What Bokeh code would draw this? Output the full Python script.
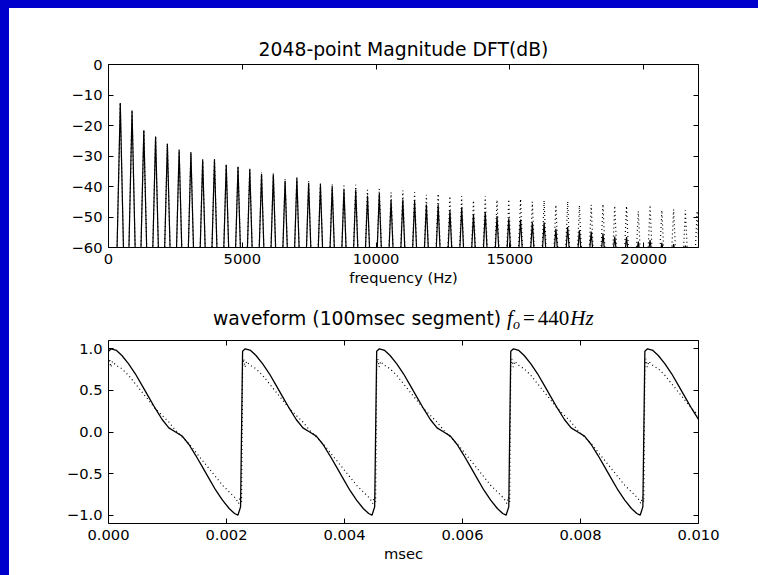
from bokeh.plotting import figure
from bokeh.models import Range1d, LinearAxis, FixedTicker, Div
from bokeh.layouts import column
from bokeh.embed import file_html
from bokeh.resources import INLINE

# ---------------- data ----------------
F0 = 440.0                      # fundamental (Hz)
NYQUIST = 22050.0
harmonic_number = list(range(1, 51))
solid_peak_db = [-12.6, -15.1, -21.6, -23.6, -26.0, -28.0, -28.9, -31.3, -31.3, -32.9,
                 -33.7, -34.4, -35.9, -36.1, -38.2, -37.3, -38.9, -39.5, -40.2, -41.1,
                 -41.1, -43.0, -42.4, -44.4, -44.3, -44.8, -45.9, -46.0, -47.9, -46.8,
                 -49.2, -48.4, -49.7, -50.4, -50.8, -51.7, -51.7, -53.9, -53.3, -54.4,
                 -54.8, -55.4, -56.4, -56.6, -58.1, -57.6, -58.5, -58.9, -59.4, -59.9]
dotted_peak_db = [-12.5, -15.0, -21.5, -23.5, -25.9, -27.7, -28.6, -31.0, -31.0, -32.6,
                  -33.2, -33.9, -35.4, -35.6, -37.5, -36.6, -38.2, -38.6, -39.1, -39.7,
                  -39.4, -41.1, -40.8, -41.9, -41.3, -41.9, -42.7, -42.4, -43.2, -43.2,
                  -44.6, -43.2, -44.4, -44.2, -44.1, -45.0, -44.6, -46.0, -44.9, -46.2,
                  -46.0, -45.8, -46.3, -46.4, -48.1, -46.1, -47.8, -47.5, -47.8, -48.0]

# one period of each waveform (phase 0..1 of a 440 Hz cycle)
solid_phase = [0.000, 0.020, 0.060, 0.100, 0.150, 0.200, 0.250, 0.300, 0.350, 0.400,
               0.450, 0.500, 0.550, 0.600, 0.650, 0.700, 0.750, 0.800, 0.850, 0.900,
               0.940, 0.965, 0.985]
solid_wave = [0.97, 1.00, 0.98, 0.92, 0.82, 0.70, 0.56, 0.42, 0.28, 0.15,
              0.05, 0.00, -0.05, -0.15, -0.28, -0.42, -0.56, -0.70, -0.82, -0.92,
              -0.98, -1.00, -0.90]
dotted_phase = [0.000, 0.008, 0.018, 0.030, 0.050, 0.100, 0.150, 0.200, 0.250, 0.300,
                0.350, 0.400, 0.450, 0.500, 0.550, 0.600, 0.650, 0.700, 0.750, 0.800,
                0.850, 0.900, 0.950, 0.970, 0.982, 0.992]
dotted_wave = [0.80, 0.88, 0.78, 0.85, 0.81, 0.76, 0.68, 0.58, 0.48, 0.38,
               0.28, 0.20, 0.12, 0.02, -0.06, -0.14, -0.24, -0.34, -0.44, -0.54,
               -0.64, -0.72, -0.80, -0.86, -0.78, -0.84]
n_periods = 5

spec_xticks = [0, 5000, 10000, 15000, 20000]
spec_xlabels = ["0", "5000", "10000", "15000", "20000"]
spec_yticks = [0, -10, -20, -30, -40, -50, -60]
spec_ylabels = ["0", "\u221210", "\u221220", "\u221230", "\u221240", "\u221250", "\u221260"]
wave_xticks = [0.0, 0.002, 0.004, 0.006, 0.008, 0.010]
wave_xlabels = ["0.000", "0.002", "0.004", "0.006", "0.008", "0.010"]
wave_yticks = [-1.0, -0.5, 0.0, 0.5, 1.0]
wave_ylabels = ["\u22121.0", "\u22120.5", "0.0", "0.5", "1.0"]

# ---------------- helpers ----------------
FONT = "DejaVu Sans"
TICK_SIZE = "14.7px"
TITLE_SIZE = "18.8px"
BLUE = "#0000cc"


def spikes(peaks):
    xs, ys = [], []
    for k, pk in zip(harmonic_number, peaks):
        f = k * F0
        h = 60.0 + 1.35 * (pk + 60.0)
        xs += [f - h, f, f + h]
        ys += [-62.0, pk, -62.0]
    return xs, ys


def tile(phase, wave):
    ts, vs = [], []
    for k in range(n_periods):
        for ph, v in zip(phase, wave):
            ts.append((k + ph) / F0)
            vs.append(v)
    return ts, vs


def make_fig(height, top, bottom, xr, yr, xt, xl, yt, yl, xlabel, margin):
    p = figure(width=749, height=height, x_range=xr, y_range=yr,
               output_backend="svg", toolbar_location=None,
               min_border_left=99, min_border_right=60,
               min_border_top=top, min_border_bottom=bottom, margin=margin)
    p.grid.visible = False
    p.outline_line_color = "black"
    p.outline_line_width = 1
    p.outline_line_alpha = 1.0
    p.background_fill_color = "white"
    p.border_fill_color = "white"
    right = LinearAxis()
    above = LinearAxis()
    p.add_layout(right, "right")
    p.add_layout(above, "above")
    left = p.left[0]
    below = p.below[0]
    for ax, ticks, labels, show in [(below, xt, xl, True), (above, xt, xl, False),
                                    (left, yt, yl, True), (right, yt, yl, False)]:
        ax.ticker = FixedTicker(ticks=ticks)
        ax.axis_line_color = None
        ax.major_tick_in = 5
        ax.major_tick_out = 0
        ax.minor_tick_in = 0
        ax.minor_tick_out = 0
        ax.major_tick_line_color = "black"
        ax.major_tick_line_width = 1
        if show:
            ax.major_label_overrides = {t: s for t, s in zip(ticks, labels)}
            ax.major_label_text_font = FONT
            ax.major_label_text_font_size = TICK_SIZE
            ax.major_label_text_color = "black"
            ax.major_label_standoff = 6
        else:
            ax.major_label_overrides = {t: "" for t in ticks}
            ax.major_label_text_font_size = "0px"
            ax.major_label_standoff = 0
    below.axis_label = xlabel
    below.axis_label_text_font = FONT
    below.axis_label_text_font_size = TICK_SIZE
    below.axis_label_text_font_style = "normal"
    below.axis_label_text_color = "black"
    below.axis_label_standoff = 2
    p.title.text_font = FONT
    p.title.text_font_size = TITLE_SIZE
    p.title.text_font_style = "normal"
    p.title.text_color = "black"
    return p


# ---------------- spectrum ----------------
p1 = make_fig(288, 56, 49, Range1d(0, NYQUIST), Range1d(-60, 0),
              spec_xticks, spec_xlabels, spec_yticks, spec_ylabels,
              "frequency (Hz)", (8, 0, 0, 9))
p1.title.text = "2048-point Magnitude DFT(dB)"
p1.title.align = "center"
sx, sy = spikes(solid_peak_db)
dx, dy = spikes(dotted_peak_db)
p1.line(sx, sy, line_color="black", line_width=1.2)
p1.line(dx, dy, line_color="black", line_width=1.2, line_dash="1 3")

# ---------------- waveform title (text with math part) ----------------
serif = "font-family:'Liberation Serif',serif;font-size:21px;"
title_html = (
    '<div style="padding-left:204px;padding-top:12px;line-height:20px;'
    'white-space:nowrap;color:#000;">'
    "<span style=\"font-family:'DejaVu Sans',sans-serif;font-size:18.8px;\">"
    "waveform (100msec segment) </span>"
    f'<span style="{serif}font-style:italic;">f</span>'
    f'<span style="{serif}font-size:14px;font-style:italic;position:relative;top:4px;">o</span>'
    f'<span style="{serif}margin-left:3px;">=</span>'
    f'<span style="{serif}margin-left:3px;">440</span>'
    f'<span style="{serif}font-style:italic;margin-left:1px;">Hz</span>'
    "</div>"
)
wave_title = Div(text=title_html, width=749, height=34, margin=(0, 0, 0, 9),
                 disable_math=True)

# ---------------- waveform ----------------
p2 = make_fig(245, 10, 52, Range1d(0, 0.010), Range1d(-1.1, 1.1),
              wave_xticks, wave_xlabels, wave_yticks, wave_ylabels,
              "msec", (0, 0, 0, 9))
p2.title.text = ""
p2.title.visible = False
ts, vs = tile(solid_phase, solid_wave)
td, vd = tile(dotted_phase, dotted_wave)
p2.line(ts, vs, line_color="black", line_width=1.3)
p2.line(td, vd, line_color="black", line_width=1.2, line_dash="1 3")

page_bg = ("linear-gradient(to right, #0000cc 9px, rgba(255,255,255,0) 9px), "
           "linear-gradient(to bottom, #0000cc 8px, #ffffff 8px)")
layout = column(p1, wave_title, p2, styles={"background": page_bg})
open("out.html", "w").write(file_html(layout, INLINE))
